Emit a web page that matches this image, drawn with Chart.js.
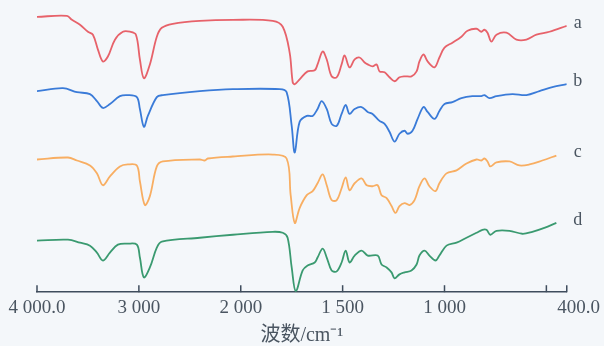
<!DOCTYPE html>
<html>
<head>
<meta charset="utf-8">
<script src="https://cdn.jsdelivr.net/npm/chart.js@4.4.1/dist/chart.umd.min.js"></script>
<style>
  body { margin: 0; background: #f4f7fa; }
  #wrap { width: 604px; height: 346px; }
</style>
</head>
<body>
<div id="wrap"><canvas id="ftir" width="604" height="346"></canvas></div>
<script>
// wavenumber (cm-1) / relative transmittance pairs
const spectrumA = [
  [4000, 278], [3706, 279], [3657, 275], [3578, 270], [3500, 263], [3451, 260],
  [3402, 245], [3353, 233], [3304, 238], [3235, 255], [3157, 263], [3088, 263],
  [3029, 260], [2990, 235], [2951, 216], [2892, 230], [2824, 258], [2775, 267],
  [2667, 271], [2402, 274], [2078, 275], [1843, 274], [1794, 268], [1760, 242],
  [1745, 212], [1735, 210], [1711, 215], [1672, 223], [1637, 224], [1623, 230],
  [1598, 243], [1578, 235], [1554, 218], [1529, 217], [1505, 230], [1490, 239],
  [1466, 227], [1441, 235], [1417, 237], [1392, 232], [1377, 230], [1353, 228],
  [1333, 230], [1319, 223], [1294, 222], [1270, 217], [1245, 213], [1221, 217],
  [1196, 218], [1162, 218], [1137, 223], [1123, 233], [1103, 240], [1083, 233],
  [1049, 227], [1025, 237], [1000, 247], [961, 252], [917, 258], [887, 264],
  [843, 266], [819, 263], [804, 265], [789, 262], [770, 253], [745, 260],
  [696, 262], [647, 255], [598, 255], [549, 260], [485, 263], [400, 269]
];
const spectrumB = [
  [4000, 203], [3745, 206], [3608, 202], [3480, 200], [3412, 193], [3353, 186],
  [3284, 190], [3186, 198], [3108, 199], [3020, 197], [2990, 185], [2951, 167],
  [2912, 178], [2824, 197], [2765, 199], [2402, 203], [2078, 205], [1809, 205],
  [1775, 202], [1750, 168], [1735, 141], [1711, 172], [1676, 178], [1647, 178],
  [1623, 185], [1603, 193], [1578, 185], [1554, 170], [1529, 168], [1505, 180],
  [1485, 189], [1466, 180], [1441, 185], [1407, 187], [1377, 182], [1353, 180],
  [1319, 173], [1294, 170], [1270, 162], [1245, 152], [1221, 160], [1196, 163],
  [1181, 160], [1157, 163], [1132, 175], [1103, 187], [1083, 182], [1049, 175],
  [1025, 183], [1000, 190], [961, 192], [917, 196], [863, 198], [819, 198],
  [804, 199], [779, 196], [745, 198], [667, 200], [598, 199], [534, 203],
  [471, 207], [400, 210]
];
const spectrumC = [
  [4000, 134], [3696, 136], [3608, 133], [3480, 128], [3412, 120], [3353, 108],
  [3284, 117], [3186, 127], [3108, 129], [3020, 128], [2990, 112], [2941, 88],
  [2892, 97], [2824, 127], [2765, 132], [2402, 134], [2353, 133], [2324, 135],
  [2078, 137], [1843, 139], [1775, 135], [1755, 98], [1735, 70], [1711, 85],
  [1676, 98], [1647, 102], [1623, 110], [1598, 119], [1578, 108], [1554, 93],
  [1529, 93], [1505, 105], [1485, 116], [1466, 103], [1441, 110], [1407, 115],
  [1382, 108], [1353, 107], [1328, 108], [1309, 98], [1284, 95], [1260, 87],
  [1240, 80], [1221, 87], [1196, 90], [1172, 88], [1147, 93], [1123, 107],
  [1098, 115], [1074, 107], [1044, 102], [1025, 110], [990, 120], [941, 123],
  [892, 130], [843, 134], [819, 133], [804, 135], [789, 132], [775, 127],
  [745, 131], [681, 132], [632, 128], [583, 129], [520, 133], [451, 138]
];
const spectrumD = [
  [4000, 52], [3696, 53], [3578, 50], [3480, 47], [3412, 40], [3353, 32],
  [3284, 40], [3206, 48], [3108, 49], [3020, 48], [2990, 35], [2951, 15],
  [2892, 25], [2824, 45], [2775, 51], [2402, 55], [2078, 58], [1843, 61],
  [1794, 60], [1770, 55], [1750, 25], [1730, 1], [1696, 22], [1672, 27],
  [1637, 30], [1623, 35], [1598, 44], [1578, 35], [1554, 22], [1529, 21],
  [1505, 30], [1485, 42], [1466, 30], [1441, 37], [1407, 42], [1377, 37],
  [1328, 37], [1309, 28], [1284, 25], [1260, 20], [1245, 14], [1221, 18],
  [1196, 20], [1162, 22], [1137, 28], [1123, 37], [1098, 42], [1074, 37],
  [1044, 32], [1025, 37], [990, 47], [941, 50], [892, 55], [843, 60],
  [814, 63], [794, 63], [775, 58], [745, 62], [681, 62], [618, 59],
  [569, 61], [510, 65], [451, 70]
];

const seriesNames = ["a", "b", "c", "d"];
const seriesColors = ["#e7626a", "#3a7bd8", "#f8ae62", "#3a9a70"];
const tickWavenumbers = [4000, 3000, 2000, 1500, 1000, 500, 400];
const tickLabels = ["4 000.0", "3 000", "2 000", "1 500", "1 000", "", "     400.0"];

// the axis is compressed 2x above 2000 cm-1
function toAxis(w) {
  return w > 2000 ? 2000 + (w - 2000) / 2 : w;
}

const axisColor = "#3f4d5d";
const textColor = "#4a5561";

const innerTicks = {
  id: "innerTicks",
  afterDraw(chart) {
    const ctx = chart.ctx;
    const xScale = chart.scales.x;
    const bottom = chart.chartArea.bottom;
    ctx.save();
    ctx.strokeStyle = axisColor;
    ctx.lineWidth = 1.5;
    tickWavenumbers.forEach((w) => {
      const px = xScale.getPixelForValue(toAxis(w));
      ctx.beginPath();
      ctx.moveTo(px, bottom);
      ctx.lineTo(px, bottom - 7);
      ctx.stroke();
    });
    ctx.restore();
  },
};

const seriesLabels = {
  id: "seriesLabels",
  afterDraw(chart) {
    const ctx = chart.ctx;
    const yScale = chart.scales.y;
    ctx.save();
    ctx.font = "18px 'Liberation Serif', serif";
    ctx.fillStyle = textColor;
    ctx.textAlign = "center";
    ctx.textBaseline = "middle";
    chart.data.datasets.forEach((ds) => {
      const last = ds.data[ds.data.length - 1];
      ctx.fillText(ds.label, chart.chartArea.right + 11, yScale.getPixelForValue(last.y) - 3);
    });
    ctx.restore();
  },
};

const spectra = [spectrumA, spectrumB, spectrumC, spectrumD];

new Chart(document.getElementById("ftir"), {
  type: "line",
  data: {
    datasets: spectra.map((spec, i) => ({
      label: seriesNames[i],
      data: spec.map((p) => ({ x: toAxis(p[0]), y: p[1] })),
      borderColor: seriesColors[i],
      borderWidth: 1.8,
      pointRadius: 0,
      tension: 0.35,
      fill: false,
    })),
  },
  options: {
    responsive: false,
    animation: false,
    layout: { padding: { left: 37, right: 37, top: 5, bottom: 0 } },
    plugins: { legend: { display: false }, tooltip: { enabled: false } },
    scales: {
      x: {
        type: "linear",
        reverse: true,
        min: 400,
        max: 3000,
        afterBuildTicks: (scale) => {
          scale.ticks = tickWavenumbers.map((w) => ({ value: toAxis(w) }));
        },
        grid: { display: true, drawOnChartArea: false, drawTicks: false },
        border: { display: true, color: axisColor, width: 1.5 },
        ticks: {
          autoSkip: false,
          maxRotation: 0,
          padding: 4,
          color: textColor,
          font: { family: "'Liberation Serif', serif", size: 19 },
          callback: (value) => {
            const idx = tickWavenumbers.findIndex((w) => toAxis(w) === value);
            return idx >= 0 ? tickLabels[idx] : "";
          },
        },
        title: {
          display: true,
          text: "波数/cm⁻¹",
          color: textColor,
          padding: { top: 2, bottom: 0 },
          font: { family: "'Liberation Serif', 'Noto Sans CJK SC', serif", size: 20, lineHeight: 1.05 },
        },
      },
      y: { display: false, min: 0, max: 290 },
    },
  },
  plugins: [innerTicks, seriesLabels],
});
</script>
</body>
</html>
